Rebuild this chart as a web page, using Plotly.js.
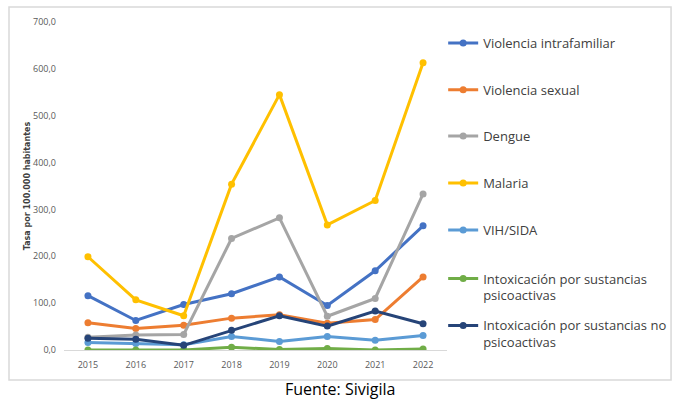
<!DOCTYPE html>
<html>
<head>
<meta charset="utf-8">
<script src="https://cdn.plot.ly/plotly-3.0.1.min.js"></script>
<style>html,body{margin:0;padding:0;background:#fff;}#chart{width:677px;height:401px;}</style>
</head>
<body>
<div id="chart"></div>
<script>
const years = ['2015','2016','2017','2018','2019','2020','2021','2022'];
const violenciaIntrafamiliar = [116, 63, 97, 120, 156, 95, 169, 265];
const violenciaSexual = [58, 46, 53, 68, 75, 57, 65, 156];
const dengue = [27, 32, 33, 238, 282, 72, 110, 333];
const malaria = [199, 107, 73, 354, 545, 267, 319, 613];
const vihSida = [16, 14, 11, 29, 18, 29, 21, 31];
const intoxPsicoactivas = [0, 0, 0, 6, 1, 3, 0, 2];
const intoxNoPsicoactivas = [25, 23, 10, 42, 73, 51, 83, 56];
const seriesNames = ['Violencia intrafamiliar','Violencia sexual','Dengue','Malaria','VIH/SIDA','Intoxicación por sustancias<br>psicoactivas','Intoxicación por sustancias no<br>psicoactivas'];
const seriesValues = [violenciaIntrafamiliar, violenciaSexual, dengue, malaria, vihSida, intoxPsicoactivas, intoxNoPsicoactivas];
const colors = ['#4472C4','#ED7D31','#A5A5A5','#FFC000','#5B9BD5','#70AD47','#264478'];
const legendY = [0.936, 0.793, 0.652, 0.509, 0.366, 0.192, 0.049];
const legendIds = ['legend','legend2','legend3','legend4','legend5','legend6','legend7'];
const sans = '"Open Sans", sans-serif';

const traces = seriesValues.map((vals, i) => ({
  x: years, y: vals, name: seriesNames[i], type: 'scatter', mode: 'lines+markers',
  line: {color: colors[i], width: 3},
  marker: {color: colors[i], size: 7},
  legend: legendIds[i]
}));

const layout = {
  width: 677, height: 401,
  margin: {l: 64, r: 230, t: 22, b: 51, autoexpand: false},
  paper_bgcolor: '#fff', plot_bgcolor: '#fff',
  separators: ',.',
  showlegend: true,
  xaxis: {
    type: 'category', range: [-0.5, 7.5], showgrid: false, zeroline: false,
    showline: true, linecolor: '#D9D9D9', linewidth: 1, ticks: '', ticklabelstandoff: 6,
    tickfont: {family: sans, size: 9, color: '#595959'}
  },
  yaxis: {
    range: [0, 700], dtick: 100, tick0: 0, tickformat: '.1f', showgrid: false,
    zeroline: false, showline: false, ticks: '', ticklabelstandoff: 7,
    tickfont: {family: sans, size: 9, color: '#595959'},
    title: {text: 'Tasa por 100.000 habitantes', standoff: 1,
      font: {family: '"DejaVu Sans", sans-serif', size: 8, color: '#404040', weight: 'bold'}}
  },
  shapes: [{
    type: 'rect', xref: 'paper', yref: 'paper',
    x0: -0.1436, x1: 1.585, y0: -0.0915, y1: 1.0457,
    line: {color: '#D9D9D9', width: 1.5}, fillcolor: 'rgba(0,0,0,0)', layer: 'below'
  }],
  annotations: [{
    text: 'Fuente: Sivigila', xref: 'paper', yref: 'paper', x: 0.72, y: -0.119,
    xanchor: 'center', yanchor: 'middle', showarrow: false,
    font: {family: sans, size: 16, color: '#000'}
  }]
};
legendIds.forEach((id, i) => {
  layout[id] = {
    x: 0.99, y: legendY[i], xanchor: 'left', yanchor: 'middle', valign: 'top',
    bgcolor: 'rgba(0,0,0,0)', itemwidth: 30,
    font: {family: sans, size: 13, color: '#404040'}
  };
});

Plotly.newPlot('chart', traces, layout, {displayModeBar: false, staticPlot: true});
</script>
</body>
</html>
